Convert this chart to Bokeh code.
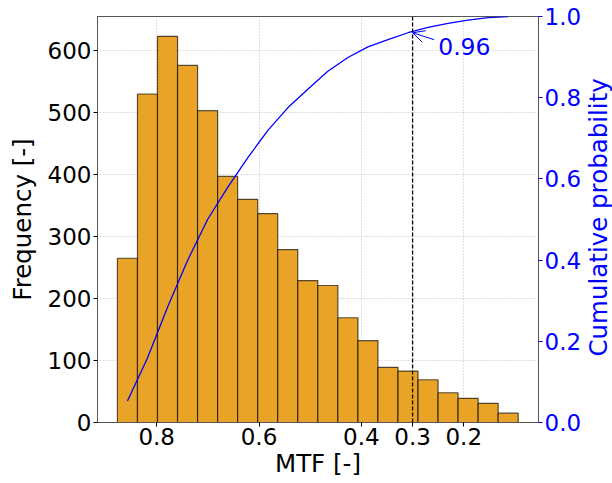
import math
from bokeh.plotting import figure
from bokeh.layouts import row
from bokeh.models import (Range1d, LinearAxis, FixedTicker, PrintfTickFormatter,
                          Span, Arrow, OpenHead)
from bokeh.core.properties import value
from bokeh.embed import file_html
from bokeh.resources import INLINE

# ---- data ----
# bin edges of the MTF histogram, from high to low MTF
bin_edges = [0.8767, 0.8375, 0.7984, 0.7592, 0.7201, 0.6809, 0.6418, 0.6026,
             0.5635, 0.5243, 0.4852, 0.4460, 0.4068, 0.3677, 0.3285, 0.2894,
             0.2502, 0.2111, 0.1719, 0.1328, 0.0936]
counts = [265, 530, 623, 576, 503, 397, 360, 337, 279, 229,
          221, 169, 132, 89, 83, 69, 48, 39, 31, 15]
cum_prob = [0.053, 0.159, 0.284, 0.399, 0.500, 0.579, 0.652, 0.719, 0.775, 0.821,
            0.865, 0.899, 0.925, 0.943, 0.960, 0.973, 0.983, 0.991, 0.997, 1.000]
x_ticks = [0.8, 0.6, 0.4, 0.3, 0.2]
freq_ticks = [0, 100, 200, 300, 400, 500, 600]
cum_ticks = [0.0, 0.2, 0.4, 0.6, 0.8, 1.0]
threshold = 0.3
threshold_cum = 0.96
threshold_label = "0.96"
label_pos = (0.25, 0.925)
arrow_tail = (0.258, 0.943)
right_label = "Cumulative probability"

FONT = "DejaVu Sans"
BLUE = "#0000ff"
FRAME = "#555555"
TICK_FS = "23px"
LABEL_FS = "24.5px"

bin_lo = bin_edges[:-1]
bin_hi = bin_edges[1:]
bin_mid = [(a + b) / 2 for a, b in zip(bin_lo, bin_hi)]

p = figure(width=584, height=483, output_backend="svg", toolbar_location=None,
           x_range=Range1d(0.9156, 0.054), y_range=Range1d(0, 655),
           min_border_left=97, min_border_right=44, min_border_top=16,
           min_border_bottom=61)
p.extra_y_ranges = {"cum": Range1d(0, 1)}

p.outline_line_color = FRAME
p.outline_line_width = 1

# grids
for g in (p.xgrid, p.ygrid):
    g.grid_line_color = "#b0b0b0"
    g.grid_line_dash = "1 2"
    g.grid_line_width = 0.8
p.xgrid.ticker = FixedTicker(ticks=x_ticks)
p.ygrid.ticker = FixedTicker(ticks=freq_ticks)

# bars
p.quad(left=bin_lo, right=bin_hi, bottom=0, top=counts,
       fill_color="#e9a327", line_color="black", line_alpha=0.65, line_width=1.2)

# threshold dashed line
p.add_layout(Span(location=threshold, dimension="height", line_color="black",
                  line_dash="4 2", line_width=1.3))

# cumulative line
p.line(bin_mid, cum_prob, y_range_name="cum", line_color=BLUE, line_width=1.3)

# annotation
p.add_layout(Arrow(end=OpenHead(size=12, line_color=BLUE, line_width=1),
                   x_start=arrow_tail[0], y_start=arrow_tail[1],
                   x_end=threshold, y_end=threshold_cum, y_range_name="cum",
                   line_color=BLUE, line_width=1))
p.text(x=[label_pos[0]], y=[label_pos[1]], text=[threshold_label], y_range_name="cum",
       text_font=value(FONT), text_font_size="23.5px", text_color=BLUE,
       text_align="left", text_baseline="middle")

# axes
def style_axis(ax, color="black"):
    ax.axis_line_color = FRAME
    ax.major_tick_line_color = color
    ax.major_tick_out = 4
    ax.major_tick_in = 0
    ax.minor_tick_line_color = None
    ax.major_label_text_font = FONT
    ax.major_label_text_font_size = TICK_FS
    ax.major_label_text_color = color
    ax.axis_label_text_font = FONT
    ax.axis_label_text_font_size = LABEL_FS
    ax.axis_label_text_font_style = "normal"
    ax.axis_label_text_color = color

xa = p.xaxis[0]
style_axis(xa)
xa.ticker = FixedTicker(ticks=x_ticks)
xa.formatter = PrintfTickFormatter(format="%.1f")
xa.axis_label = "MTF [-]"
xa.major_label_standoff = 1
xa.axis_label_standoff = 1

ya = p.yaxis[0]
style_axis(ya)
ya.ticker = FixedTicker(ticks=freq_ticks)
ya.axis_label = "Frequency [-]"
ya.major_label_standoff = 2
ya.axis_label_standoff = 8

ra = LinearAxis(y_range_name="cum")
style_axis(ra, BLUE)
ra.ticker = FixedTicker(ticks=cum_ticks)
ra.formatter = PrintfTickFormatter(format="%.1f")
ra.major_label_standoff = 2
p.add_layout(ra, "right")

# narrow strip to the right holding the right-axis title, read bottom-to-top
strip_w, strip_h = 28, 483
t = figure(width=strip_w, height=strip_h, output_backend="svg", toolbar_location=None,
           x_range=Range1d(0, strip_w), y_range=Range1d(0, strip_h),
           x_axis_location=None, y_axis_location=None,
           min_border=0)
t.outline_line_color = None
t.grid.visible = False
t.text(x=[14], y=[244], text=[right_label], angle=math.pi / 2,
       text_font=value(FONT), text_font_size=LABEL_FS, text_color=BLUE,
       text_align="center", text_baseline="middle")

layout = row(p, t, spacing=0)
open("out.html", "w").write(file_html(layout, INLINE))
